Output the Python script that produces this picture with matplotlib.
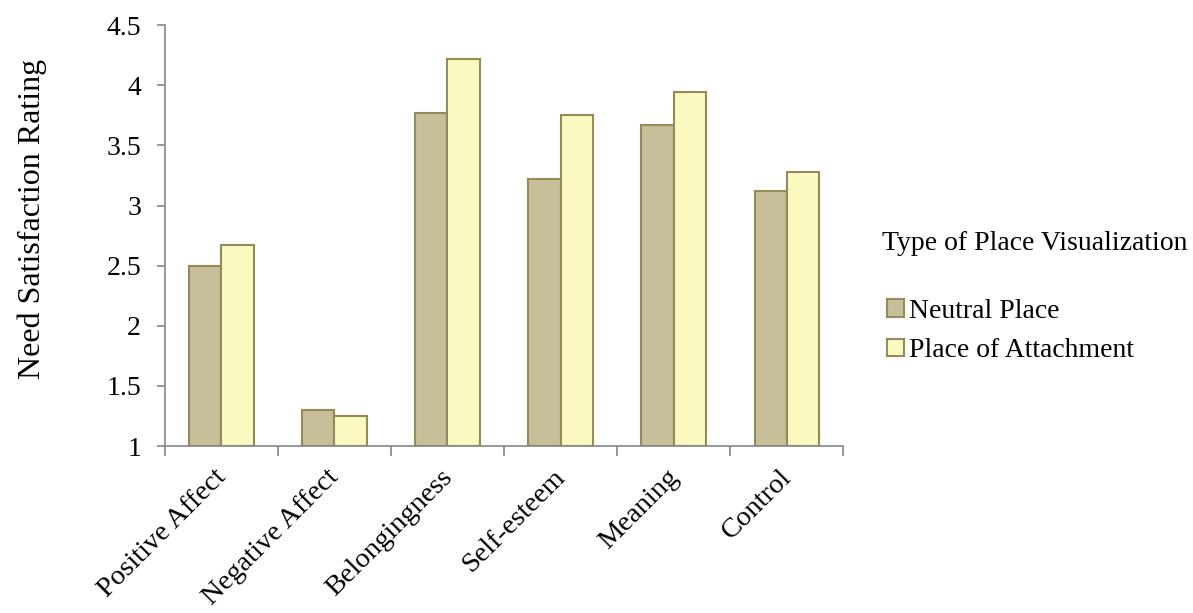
import matplotlib
matplotlib.use("Agg")
import matplotlib.pyplot as plt
import matplotlib.transforms as mtransforms
import numpy as np
from matplotlib.patches import Patch

categories = ["Positive Affect", "Negative Affect", "Belongingness", "Self-esteem", "Meaning", "Control"]
neutral = [2.50, 1.30, 3.77, 3.22, 3.67, 3.12]
attachment = [2.67, 1.25, 4.22, 3.75, 3.94, 3.28]
series_names = ["Neutral Place", "Place of Attachment"]
legend_title = "Type of Place Visualization"
yticks = [1, 1.5, 2, 2.5, 3, 3.5, 4, 4.5]
ytick_labels = ["1", "1.5", "2", "2.5", "3", "3.5", "4", "4.5"]

plt.rcParams['font.family'] = ['Liberation Serif', 'DejaVu Serif']

fig = plt.figure(figsize=(11.93, 6.13), dpi=100)
ax = fig.add_axes([0.138, 0.2724, 0.569, 0.6866])

x = np.arange(len(categories))
w = 1 / 3.5
c_neu, c_att, edge = "#C7BF99", "#FAFAC0", "#958B57"
ax.bar(x - w / 2, [v - 1 for v in neutral], w, bottom=1, color=c_neu, edgecolor=edge, linewidth=1.5)
ax.bar(x + w / 2, [v - 1 for v in attachment], w, bottom=1, color=c_att, edgecolor=edge, linewidth=1.5)

ax.set_xlim(-0.5, len(categories) - 0.5)
ax.set_ylim(1, 4.5)
ax.set_yticks(yticks)
ax.set_yticklabels(ytick_labels, fontsize=20)

# category labels: drawn as text anchored at category centres
ax.set_xticks([])
offset = mtransforms.ScaledTranslation(-8 / 100, -19 / 100, fig.dpi_scale_trans)
trans = ax.get_xaxis_transform() + offset
for xi, lab in zip(x, categories):
    ax.text(xi, 0, lab, transform=trans, rotation=45, ha='right', va='top',
            rotation_mode='anchor', fontsize=20.5)
ax.set_xticks(np.arange(len(categories) + 1) - 0.5, minor=True)
ax.tick_params(axis='x', which='minor', length=7, color='#868686', width=1.2)
ax.tick_params(axis='y', length=6, color='#868686', width=1.2, pad=11)

for s in ['top', 'right']:
    ax.spines[s].set_visible(False)
for s in ['left', 'bottom']:
    ax.spines[s].set_color('#868686')
    ax.spines[s].set_linewidth(1.2)

ax.set_ylabel("Need Satisfaction Rating", fontsize=23)
ax.yaxis.set_label_coords(-0.174, 0.54)

fig.text(882 / 1193, 1 - 244 / 613, legend_title, fontsize=20, ha='left', va='center')
handles = [Patch(facecolor=c_neu, edgecolor=edge, linewidth=1.5),
           Patch(facecolor=c_att, edgecolor=edge, linewidth=1.5)]
leg = fig.legend(handles, series_names, loc='upper left', bbox_to_anchor=(887 / 1193, 1 - 299 / 613),
                 frameon=False, fontsize=20, handlelength=0.6, handleheight=0.6,
                 handletextpad=0.2, labelspacing=0.52, borderaxespad=0, borderpad=0)

fig.savefig("out.png", dpi=100)
